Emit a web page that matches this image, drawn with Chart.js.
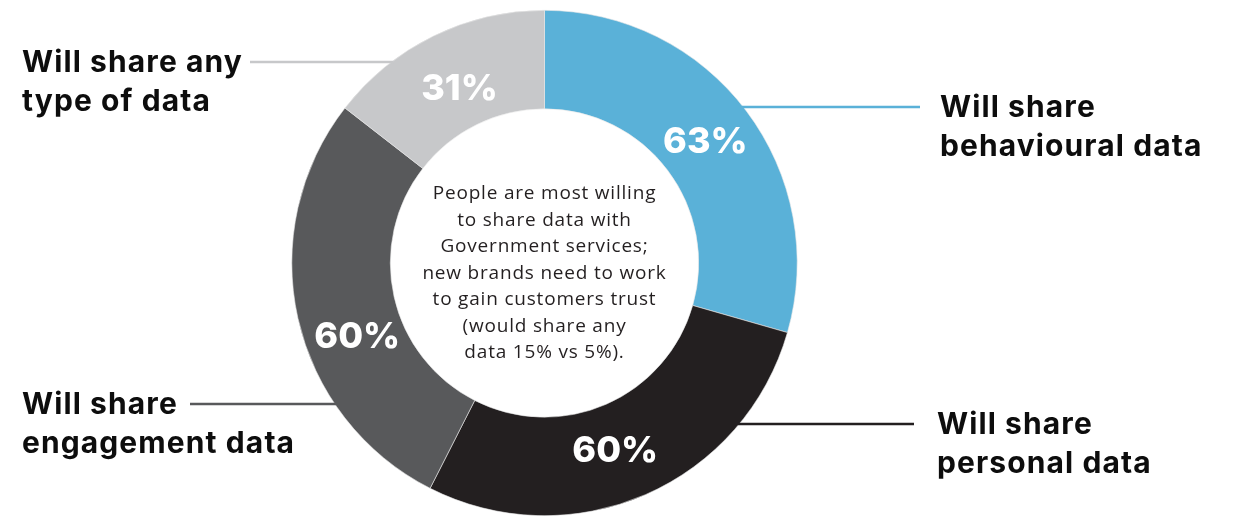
<!DOCTYPE html>
<html>
<head>
<meta charset="utf-8">
<script src="https://cdn.jsdelivr.net/npm/chart.js@4.4.1/dist/chart.umd.min.js"></script>
<style>
  html, body { margin: 0; padding: 0; background: #fff; }
  #wrap { width: 1240px; height: 516px; position: relative; }
</style>
</head>
<body>
<div id="wrap"><canvas id="shareChart"></canvas></div>
<script>
// Datos del donut: cada segmento es un tipo de dato que la gente compartiria
const categorias = [
    ['Will share', 'behavioural data'],
    ['Will share', 'personal data'],
    ['Will share', 'engagement data'],
    ['Will share any', 'type of data']
];
const porcentajes = [63, 60, 60, 31];
const colores = ['#5ab1d8', '#231f20', '#58595b', '#c7c8ca'];

// Texto del centro, una linea por elemento
const textoCentro = [
    'People are most willing',
    'to share data with',
    'Government services;',
    'new brands need to work',
    'to gain customers trust',
    '(would share any',
    'data 15% vs 5%).'
];

// Donde va cada etiqueta de afuera (linea horizontal hasta el borde del anillo)
const etiquetasLayout = [
    { lado: 'right', lineaY: 107, textoX: 940, finLinea: 920 },
    { lado: 'right', lineaY: 424, textoX: 937, finLinea: 914 },
    { lado: 'left',  lineaY: 404, textoX: 22,  finLinea: 190 },
    { lado: 'left',  lineaY: 62,  textoX: 22,  finLinea: 250 }
];
// pequeno corrimiento de los % respecto al centro del segmento (grados / px)
const ajusteAngulo = [0, 3, -9, 0];
const ajusteRadio = [0, 0, 0, -8];

const fuenteBold = '"Inter", "Lato", sans-serif';

const pluginEtiquetas = {
    id: 'etiquetas',
    afterDatasetsDraw(chart) {
        const ctx = chart.ctx;
        const meta = chart.getDatasetMeta(0);
        ctx.save();
        meta.data.forEach((arco, i) => {
            const p = arco.getProps(['x', 'y', 'startAngle', 'endAngle', 'innerRadius', 'outerRadius'], true);
            // porcentaje dentro del segmento
            const ang = (p.startAngle + p.endAngle) / 2 + ajusteAngulo[i] * Math.PI / 180;
            const r = (p.innerRadius + p.outerRadius) / 2 - 2 + ajusteRadio[i];
            ctx.fillStyle = '#ffffff';
            ctx.font = '800 36px ' + fuenteBold;
            ctx.letterSpacing = '0px';
            ctx.textAlign = 'center';
            ctx.textBaseline = 'middle';
            ctx.fillText(porcentajes[i] + '%', p.x + r * Math.cos(ang), p.y + r * Math.sin(ang));

            // linea guia y etiqueta afuera
            const lay = etiquetasLayout[i];
            const dy = lay.lineaY - p.y;
            const dx = Math.sqrt(Math.max(p.outerRadius * p.outerRadius - dy * dy, 0));
            const borde = lay.lado === 'right' ? p.x + dx - 2 : p.x - dx + 2;
            ctx.strokeStyle = colores[i];
            ctx.lineWidth = 2.5;
            ctx.beginPath();
            ctx.moveTo(borde, lay.lineaY);
            ctx.lineTo(lay.finLinea, lay.lineaY);
            ctx.stroke();

            ctx.fillStyle = '#0d0d0d';
            ctx.font = '700 30px ' + fuenteBold;
            ctx.letterSpacing = '1.1px';
            ctx.textAlign = 'left';
            categorias[i].forEach((linea, k) => {
                ctx.fillText(linea, lay.textoX, lay.lineaY + 1 + k * 39);
            });
        });

        // texto central
        const c = meta.data[0];
        ctx.fillStyle = '#231f20';
        ctx.font = '400 19px "Open Sans", sans-serif';
        ctx.letterSpacing = '0.8px';
        ctx.textAlign = 'center';
        textoCentro.forEach((linea, k) => {
            ctx.fillText(linea, c.x, c.y - 69 + k * 26.5);
        });
        ctx.restore();
    }
};

const dataDonut = {
    labels: categorias.map(l => l.join(' ')),
    datasets: [{
        data: porcentajes,
        backgroundColor: colores,
        borderColor: '#e8e8e8',
        borderWidth: 0.6
    }]
};

const donutConfig = {
    type: 'doughnut',
    data: dataDonut,
    options: {
        responsive: true,
        maintainAspectRatio: false,
        animation: false,
        cutout: '61%',
        layout: { padding: { top: 10, bottom: 0, left: 0, right: 151 } },
        plugins: {
            legend: { display: false },
            tooltip: { enabled: false }
        }
    },
    plugins: [pluginEtiquetas]
};

const donutChart = new Chart(
    document.getElementById('shareChart'),
    donutConfig
);
</script>
</body>
</html>
